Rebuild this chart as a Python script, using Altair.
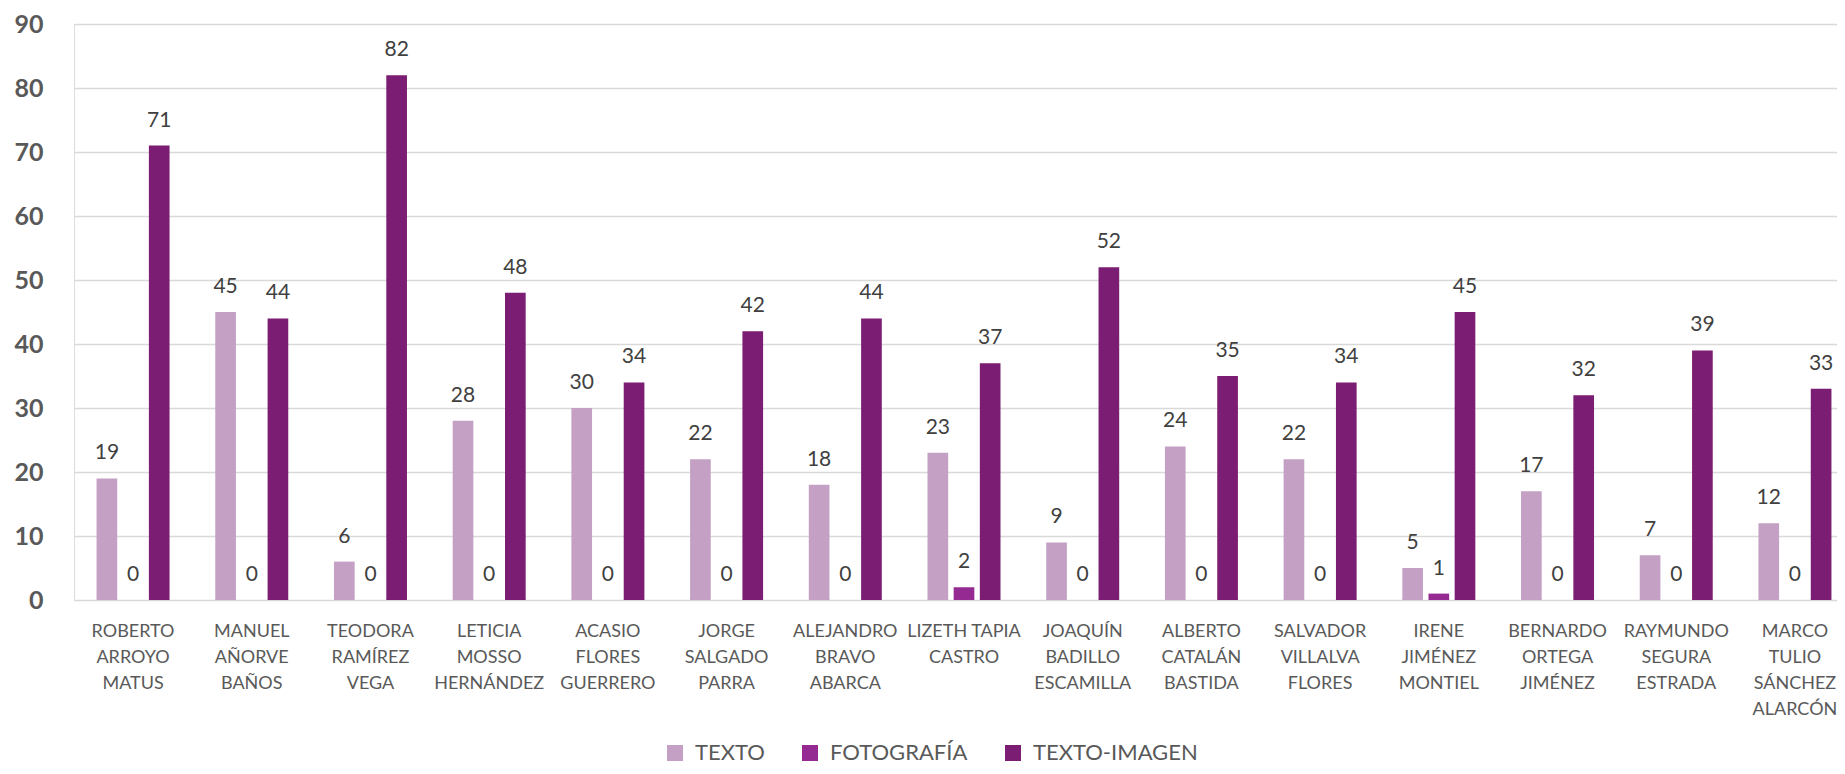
import altair as alt
import pandas as pd

categories = [
    "ROBERTO|ARROYO|MATUS",
    "MANUEL|AÑORVE|BAÑOS",
    "TEODORA|RAMÍREZ|VEGA",
    "LETICIA|MOSSO|HERNÁNDEZ",
    "ACASIO|FLORES|GUERRERO",
    "JORGE|SALGADO|PARRA",
    "ALEJANDRO|BRAVO|ABARCA",
    "LIZETH TAPIA|CASTRO",
    "JOAQUÍN|BADILLO|ESCAMILLA",
    "ALBERTO|CATALÁN|BASTIDA",
    "SALVADOR|VILLALVA|FLORES",
    "IRENE|JIMÉNEZ|MONTIEL",
    "BERNARDO|ORTEGA|JIMÉNEZ",
    "RAYMUNDO|SEGURA|ESTRADA",
    "MARCO|TULIO|SÁNCHEZ|ALARCÓN",
]
series = ["TEXTO", "FOTOGRAFÍA", "TEXTO-IMAGEN"]
texto = [19, 45, 6, 28, 30, 22, 18, 23, 9, 24, 22, 5, 17, 7, 12]
fotografia = [0, 0, 0, 0, 0, 0, 0, 2, 0, 0, 0, 1, 0, 0, 0]
texto_imagen = [71, 44, 82, 48, 34, 42, 44, 37, 52, 35, 34, 45, 32, 39, 33]
colors = ["#C4A0C4", "#952A93", "#7A1D73"]
y_ticks = [0, 10, 20, 30, 40, 50, 60, 70, 80, 90]

rows = []
for name, vals in zip(series, [texto, fotografia, texto_imagen]):
    for c, v in zip(categories, vals):
        rows.append({"cat": c, "serie": name, "valor": v})
df = pd.DataFrame(rows)

FONT = "Lato"

x_enc = alt.X(
    "cat:N",
    sort=categories,
    title=None,
    scale=alt.Scale(range=[0, 1780], paddingInner=0.385, paddingOuter=0.19),
    axis=alt.Axis(
        labelExpr="split(datum.label, '|')",
        labelAngle=0,
        labelFont=FONT,
        labelFontSize=18,
        labelColor="#595959",
        labelLineHeight=26,
        labelPadding=22,
        ticks=False,
        domain=False,
        grid=False,
        labelBaseline="top",
    ),
)
xoff = alt.XOffset("serie:N", sort=series, scale=alt.Scale(paddingInner=0.21))
y_enc = alt.Y(
    "valor:Q",
    title=None,
    scale=alt.Scale(domain=[0, 90], nice=False),
    axis=alt.Axis(
        values=y_ticks,
        labelFont=FONT,
        labelFontSize=25,
        labelFontWeight="bold",
        labelColor="#595959",
        labelPadding=31,
        ticks=False,
        domain=False,
        gridColor="#D9D9D9",
        gridWidth=1.5,
    ),
)

bars = alt.Chart(df).mark_bar().encode(
    x=x_enc,
    xOffset=xoff,
    y=y_enc,
    color=alt.Color(
        "serie:N",
        sort=series,
        scale=alt.Scale(domain=series, range=colors),
        legend=alt.Legend(
            title=None,
            orient="none",
            direction="horizontal",
            legendX=590,
            legendY=718,
            symbolType="square",
            symbolSize=256,
            symbolStrokeWidth=0,
            symbolOpacity=1,
            labelFont=FONT,
            labelFontSize=22,
            labelColor="#595959",
            labelOffset=9,
            labelLimit=0,
            columnPadding=34,
            padding=0,
        ),
    ),
)

labels = alt.Chart(df).mark_text(
    font=FONT, fontSize=21, color="#404040", baseline="alphabetic", dy=-19
).encode(
    x=alt.X("cat:N", sort=categories),
    xOffset=xoff,
    y=alt.Y("valor:Q"),
    text=alt.Text("valor:Q"),
)

chart = (
    alt.layer(bars, labels)
    .properties(
        width=1763,
        height=576,
        autosize=alt.AutoSizeParams(type="none"),
        padding={"left": 66, "top": 16, "right": 0, "bottom": 166},
    )
    .configure_view(stroke=None)
    .configure(background="white")
)

chart.save("out.html", embed_options={"renderer": "svg", "actions": False})
